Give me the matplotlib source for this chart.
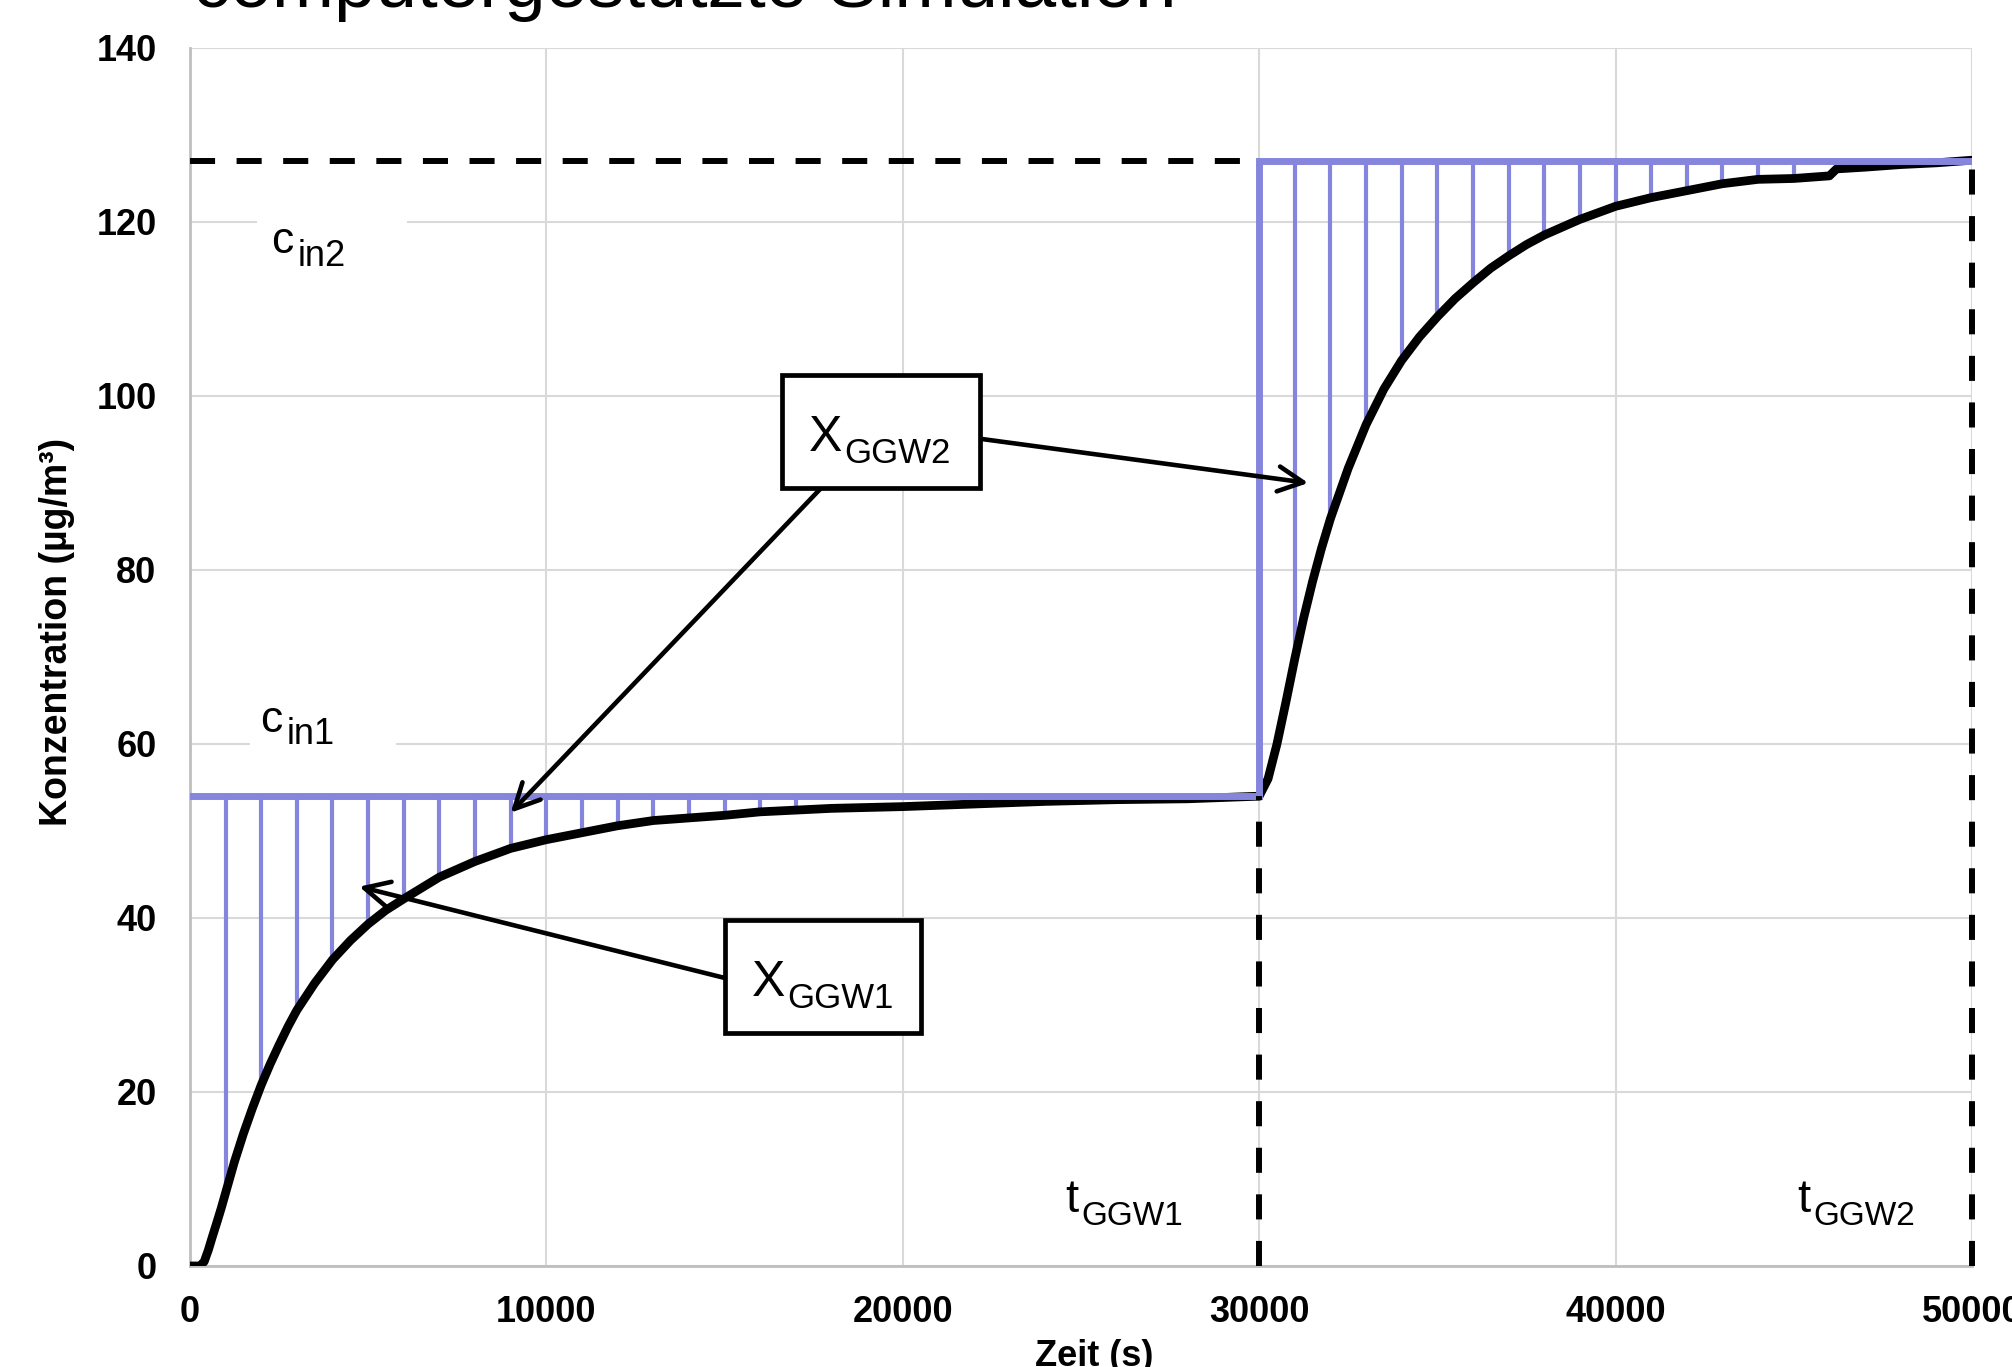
import matplotlib
matplotlib.use("Agg")
import matplotlib.pyplot as plt
from matplotlib.patches import Rectangle
import numpy as np

plt.rcParams['font.family'] = ['Liberation Sans', 'DejaVu Sans']

# simulated concentration
t_sim = [0, 280, 400, 514, 625, 748, 875, 1000, 1250, 1500, 1750, 2000, 2250, 2500,
         2750, 3000, 3500, 4000, 4500, 5000, 5500, 6000,
         7000, 8000, 9000, 10000, 11000, 12000, 13000, 14000, 15000, 16000, 17000,
         18000, 19000, 20000, 22000, 24000, 26000, 28000, 30000,
         30250, 30500, 30750, 31000, 31250, 31500, 31750, 32000, 32500, 33000, 33500,
         34000, 34500, 35000, 35500, 36000, 36500, 37000, 37500, 38000, 39000, 40000,
         41000, 42000, 43000, 44000, 45000, 46000, 46200, 47000, 48000, 49000, 50000]
c_sim = [0, 0, 0.5, 1.8, 3.3, 4.9, 6.6, 8.4, 12.0, 15.2, 18.1, 20.8, 23.2, 25.4,
         27.5, 29.4, 32.5, 35.2, 37.4, 39.3, 40.9, 42.2,
         44.7, 46.5, 48.0, 49.0, 49.8, 50.6, 51.2, 51.5, 51.8, 52.2, 52.4,
         52.6, 52.7, 52.8, 53.1, 53.4, 53.6, 53.7, 54.0,
         56.0, 60.0, 64.8, 69.8, 74.5, 78.7, 82.5, 85.9, 91.7, 96.7, 100.8,
         104.1, 106.8, 109.1, 111.2, 113.0, 114.7, 116.1, 117.4, 118.5, 120.3, 121.8,
         122.8, 123.6, 124.4, 124.9, 125.0, 125.3, 126.1, 126.3, 126.6, 126.8, 127.1]

# inlet steps and equilibrium times
c_in1 = 54
c_in2 = 127
t_ggw1 = 30000
t_ggw2 = 50000

# times of the thin area lines
stems1 = list(range(1000, 18000, 1000))
stems2 = list(range(31000, 46000, 1000))

blue = '#8585DD'

fig = plt.figure(figsize=(20.12, 13.67), dpi=100)
ax = fig.add_axes([0.0944, 0.0739, 0.8857, 0.8910])
ax.set_xlim(0, 50000)
ax.set_ylim(0, 140)
ax.set_xticks([0, 10000, 20000, 30000, 40000, 50000])
ax.set_yticks([0, 20, 40, 60, 80, 100, 120, 140])
ax.grid(True, color='#D9D9D9', lw=1.5, zorder=0)
ax.set_axisbelow(True)
for s in ['top', 'right']:
    ax.spines[s].set_visible(False)
for s in ['left', 'bottom']:
    ax.spines[s].set_color('#BFBFBF')
    ax.spines[s].set_linewidth(2)
ax.tick_params(axis='both', length=0, labelsize=26)
ax.tick_params(axis='x', pad=21)
ax.tick_params(axis='y', pad=24)
for lab in ax.get_xticklabels() + ax.get_yticklabels():
    lab.set_fontweight('bold')

lookup = dict(zip(t_sim, c_sim))
ax.vlines(stems1, [lookup[t] for t in stems1], c_in1, color=blue, lw=3, zorder=2)
ax.vlines(stems2, [lookup[t] for t in stems2], c_in2, color=blue, lw=3, zorder=2)

ax.plot(t_sim, c_sim, color='black', lw=6.3, zorder=3,
        solid_capstyle='round', solid_joinstyle='round')

ax.plot([0, t_ggw1, t_ggw1, t_ggw2], [c_in1, c_in1, c_in2, c_in2],
        color=blue, lw=5, zorder=4, solid_joinstyle='miter')

dash = (0, (4.2, 3.6))
ax.plot([0, t_ggw1], [c_in2, c_in2], color='black', lw=4.3, ls=dash, zorder=5)
ax.plot([t_ggw1, t_ggw1], [0, c_in1], color='black', lw=4.3, ls=dash, zorder=5)
ax.plot([t_ggw2, t_ggw2], [0, c_in2], color='black', lw=4.3, ls=dash, zorder=5, clip_on=False)


def label(x, y, main, sub, xs, ys, size, subsize, ha='left'):
    ax.text(x, y, main, fontsize=size, ha='left', va='baseline', zorder=8)
    ax.text(xs, ys, sub, fontsize=subsize, ha='left', va='baseline', zorder=8)


# labels c_in and t_GGW
ax.add_patch(Rectangle((1880, 112), 4210, 12, fc='white', ec='none', zorder=1))
ax.add_patch(Rectangle((1680, 57), 4100, 10, fc='white', ec='none', zorder=1))
label(2273, 116.4, 'c', 'in2', 3030, 114.95, 32, 26)
label(1956, 61.4, 'c', 'in1', 2702, 59.99, 32, 26)
label(24565, 6.24, 't', 'GGW1', 25000, 4.71, 34, 24)
label(45107, 6.24, 't', 'GGW2', 45542, 4.71, 34, 24)

# boxes with arrows
ax.add_patch(Rectangle((19383 - 2778, 95.9 - 6.48), 5556, 12.95, fc='white', ec='black',
                       lw=3.4, zorder=7))
label(17368, 93.69, 'X', 'GGW2', 18350, 92.31, 36, 25)
ax.add_patch(Rectangle((17762 - 2750, 33.3 - 6.49), 5500, 12.98, fc='white', ec='black',
                       lw=3.4, zorder=7))
label(15777, 31.06, 'X', 'GGW1', 16759, 29.68, 36, 25)

arrow = dict(arrowstyle='->,head_length=0.9,head_width=0.45', color='black', lw=3.3,
             mutation_scale=20, shrinkA=0, shrinkB=0)
ax.annotate('', xy=(31378, 90.0), xytext=(22138, 95.1), arrowprops=arrow, zorder=6)
ax.annotate('', xy=(9000, 52.1), xytext=(17705, 89.4), arrowprops=arrow, zorder=6)
ax.annotate('', xy=(4751, 43.6), xytext=(15011, 33.1), arrowprops=arrow, zorder=6)

fig.text(0.5438, 0.0007, 'Zeit (s)', fontsize=26, fontweight='bold', ha='center', va='baseline')
fig.text(0.0285, 0.538, 'Konzentration (µg/m³)', fontsize=27, fontweight='bold',
         rotation=90, ha='center', va='center')
fig.text(0.0959, 0.9951, 'computergestützte Simulation', fontsize=53.8, ha='left', va='baseline')

fig.savefig('out.png', dpi=100)
